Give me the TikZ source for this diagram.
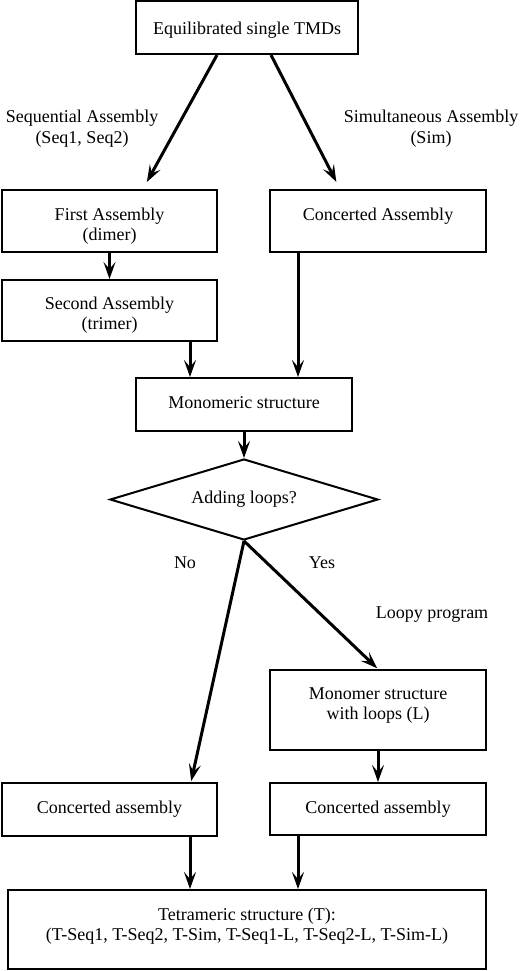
\documentclass[tikz,border=0pt]{standalone}
\usepackage{fontspec}
\setmainfont{Liberation Serif}
\usetikzlibrary{shapes.geometric,arrows.meta}
\newcommand\boxtext[2]{\raisebox{\dimexpr#1-7pt\relax}[0pt][0pt]{\begin{tabular}{@{}c@{}}#2\end{tabular}}}
\tikzset{
  fbox/.style={draw, line width=2pt, rectangle, inner sep=0pt, font=\fontsize{18}{20}\selectfont},
  dbox/.style={draw, line width=2pt, diamond, inner sep=0pt, aspect=3.3, font=\fontsize{18}{20}\selectfont},
  lab/.style={inner sep=0pt, font=\fontsize{18}{20.5}\selectfont},
  arr/.style={line width=3pt, -{Stealth[length=17pt,width=12pt,inset=7pt]}},
}
\begin{document}
\begin{tikzpicture}[x=1pt,y=-1pt]
\useasboundingbox (0,0) rectangle (520,971);
\node[fbox, minimum width=222pt, minimum height=53pt] (top) at (247,27.5) {\boxtext{0pt}{Equilibrated single TMDs}};
\node[fbox, minimum width=215pt, minimum height=62pt] (first) at (109.5,221) {\boxtext{-3pt}{First Assembly\\(dimer)}};
\node[fbox, minimum width=216pt, minimum height=62pt] (concA) at (378,221) {\boxtext{7.5pt}{Concerted Assembly}};
\node[fbox, minimum width=215pt, minimum height=61pt] (second) at (109.5,310.5) {\boxtext{-2pt}{Second Assembly\\(trimer)}};
\node[fbox, minimum width=216pt, minimum height=53pt] (mono) at (244,404.5) {\boxtext{3pt}{Monomeric structure}};
\node[dbox, minimum width=268pt, minimum height=81pt] (dia) at (244,499.5) {\boxtext{3pt}{Adding loops?}};
\node[fbox, minimum width=216pt, minimum height=80pt] (loops) at (378,710) {\boxtext{7.5pt}{Monomer structure\\with loops (L)}};
\node[fbox, minimum width=215pt, minimum height=53pt] (concL) at (109.5,809.5) {\boxtext{2.5pt}{Concerted assembly}};
\node[fbox, minimum width=216pt, minimum height=52pt] (concR) at (378,809) {\boxtext{2.5pt}{Concerted assembly}};
\node[fbox, minimum width=478pt, minimum height=79pt] (bottom) at (247,929.5) {\boxtext{6pt}{Tetrameric structure (T):\\(T-Seq1, T-Seq2, T-Sim, T-Seq1-L, T-Seq2-L, T-Sim-L)}};

\node[lab] (seqlab) at (82,126) {\boxtext{0pt}{Sequential Assembly\\(Seq1, Seq2)}};
\node[lab] (simlab) at (431,126) {\boxtext{0pt}{Simultaneous Assembly\\(Sim)}};
\node[lab] (nolab) at (185,562) {\boxtext{0pt}{No}};
\node[lab] (yeslab) at (322,562) {\boxtext{0pt}{Yes}};
\node[lab] (looplab) at (432,611.5) {\boxtext{0pt}{Loopy program}};

\draw[arr, shorten >=8pt] ([xshift=-30pt]top.south) -- ([xshift=33.5pt]first.north);
\draw[arr, shorten >=8pt] ([xshift=24pt]top.south) -- ([xshift=-38pt]concA.north);
\draw[arr] (first.south) -- (second.north);
\draw[arr] ([xshift=80.5pt]second.south) -- ([xshift=-54pt]mono.north);
\draw[arr] ([xshift=-80pt]concA.south) -- ([xshift=54pt]mono.north);
\draw[arr] (mono.south) -- (dia.north);
\draw[arr, shorten >=1pt] (dia.south) -- ([xshift=81.5pt]concL.north);
\draw[arr, shorten >=1pt] (dia.south) -- (loops.north);
\draw[arr] (loops.south) -- (concR.north);
\draw[arr] ([xshift=80.5pt]concL.south) -- ([xshift=-57pt]bottom.north);
\draw[arr] ([xshift=-80pt]concR.south) -- ([xshift=51pt]bottom.north);
\end{tikzpicture}
\end{document}
